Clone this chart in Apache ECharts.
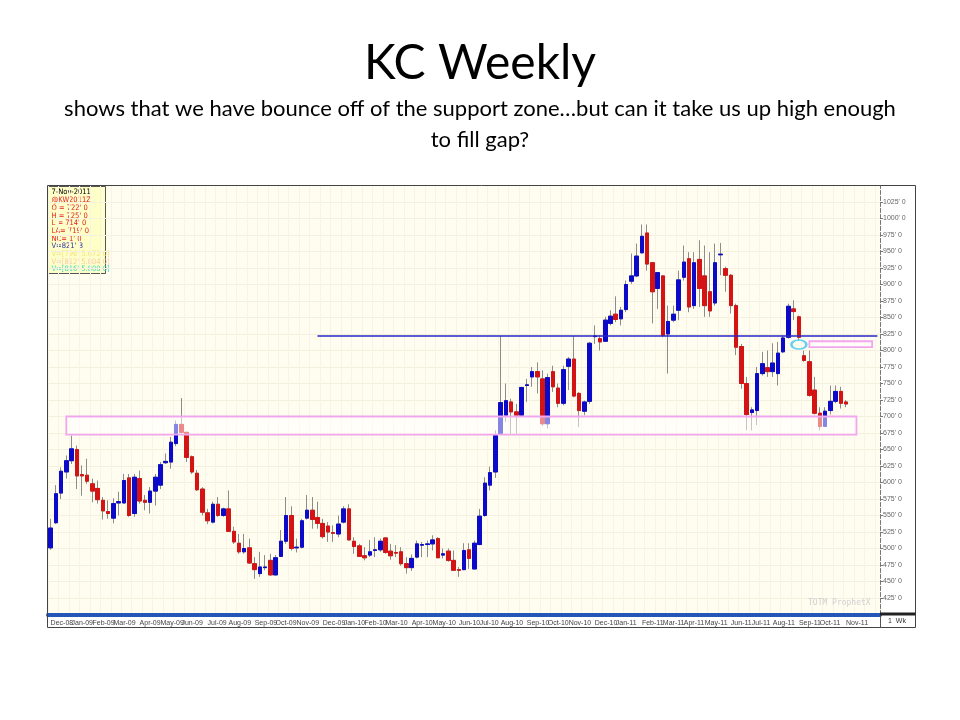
<!DOCTYPE html>
<html>
<head>
<meta charset="utf-8">
<title>KC Weekly</title>
<script src="https://cdn.jsdelivr.net/npm/echarts/dist/echarts.min.js"></script>
<style>
  html, body { margin: 0; padding: 0; background: #fff; }
  #chart { width: 960px; height: 720px; }
</style>
</head>
<body>
<div id="chart"></div>
<script>
// weekly bars, first one is the week of 8-Dec-2008, last one 7-Nov-2011
var firstWeek = '2008-12-08';
var weekSlots = 159;   // 153 bars + empty weeks on the right of the chart
var MONTHS = ['Jan','Feb','Mar','Apr','May','Jun','Jul','Aug','Sep','Oct','Nov','Dec'];

var opens = [
  501,539,584,616,633,650,612,611,598,591,
  573,556,546,569,569,607,553,606,573,570,
  587,596,630,631,659,688,676,639,614,590,
  554,540,567,550,560,526,508,495,501,477,
  462,471,482,460,488,511,550,501,502,546,
  558,547,538,534,524,522,540,560,511,504,
  489,490,497,498,516,496,494,495,477,471,
  487,505,506,507,515,490,496,482,468,468,
  498,469,506,550,596,616,674,702,722,707,
  702,747,760,768,757,689,768,743,720,776,
  787,735,708,723,821,818,814,841,855,848,
  862,905,913,948,978,933,894,913,825,846,
  861,911,939,868,938,913,889,872,945,924,
  914,868,806,750,706,709,765,774,768,765,
  798,820,863,851,792,783,740,705,685,709,
  723,738,722
];
var closes = [
  531,583,617,633,651,610,610,602,587,574,
  557,553,568,571,603,550,608,572,570,587,
  608,627,632,661,688,676,638,616,589,555,
  542,567,550,560,526,510,495,500,478,468,
  472,472,460,486,511,550,500,502,542,558,
  544,538,518,525,523,537,560,513,503,488,
  486,495,498,511,494,489,493,477,471,485,
  507,506,507,513,486,492,482,467,467,497,
  485,508,549,599,615,671,721,724,707,702,
  744,748,768,760,689,759,745,720,771,787,
  731,709,722,811,822,813,846,852,847,861,
  900,913,943,973,931,889,918,823,844,855,
  907,934,866,933,894,868,860,933,946,914,
  868,805,750,703,710,765,780,768,781,796,
  819,867,859,820,785,732,705,685,708,723,
  738,720,719
];
var lows = [
  498,537,575,606,628,590,580,598,570,568,
  544,545,538,550,568,548,548,568,558,553,
  565,590,628,621,655,674,631,613,587,550,
  537,538,548,548,525,507,492,492,477,454,
  457,467,459,459,487,507,497,494,500,544,
  530,530,515,510,510,517,538,512,492,487,
  482,487,487,495,492,483,487,474,462,466,
  485,487,487,497,485,485,480,466,457,467,
  469,468,505,548,588,607,672,692,674,674,
  700,722,745,735,686,682,737,714,717,740,
  729,684,702,719,810,800,813,838,843,838,
  858,901,911,947,921,841,863,820,765,843,
  846,906,858,863,866,851,851,868,914,889,
  856,793,742,679,679,687,762,760,760,747,
  796,818,846,815,783,730,703,679,684,703,
  720,712,714
];
var highs = [
  545,596,623,641,671,656,626,636,606,603,
  578,573,576,586,613,613,613,618,581,593,
  613,631,644,669,694,728,677,641,619,593,
  560,571,578,562,588,533,522,522,515,487,
  495,490,492,490,528,578,564,515,545,581,
  578,571,545,540,535,550,564,567,517,507,
  502,513,517,515,517,507,505,502,487,491,
  512,510,512,520,517,500,500,497,472,508,
  508,512,560,608,624,679,822,750,727,719,
  745,757,775,782,770,765,777,750,777,790,
  822,737,724,813,838,823,851,861,882,866,
  906,947,962,991,991,934,919,914,868,868,
  921,959,949,949,967,959,949,962,963,927,
  916,871,810,760,714,775,798,800,811,813,
  823,871,876,853,800,800,760,714,714,747,
  747,745,725
];

var yTicks = { min: 400, max: 1050, step: 25 };
// drawn levels: [start week, top, end week, bottom]
var zones = [
  [3, 700, 154, 672.5],     // support zone
  [145, 814, 157, 805]      // gap
];
var resistance = { fromWeek: 51, toWeek: 158, level: 822 };
var gapMarker = [143, 809];

// ---------------------------------------------------------------
var cats = [];
var start = new Date(firstWeek + 'T00:00:00Z');
for (var w = 0; w < weekSlots; w++) {
  var d = new Date(start.getTime() + w * 7 * 86400000);
  cats.push(d.toISOString().slice(0, 10));
}

var ohlc = [], bodies = [];
for (var i = 0; i < opens.length; i++) {
  ohlc.push([opens[i], closes[i], lows[i], highs[i]]);
  bodies.push([opens[i], closes[i], Math.min(opens[i], closes[i]), Math.max(opens[i], closes[i])]);
}
var last = opens.length - 1;

function isMonthStart(idx) {
  if (idx >= opens.length) return false;
  return idx === 0 || cats[idx].slice(5, 7) !== cats[idx - 1].slice(5, 7);
}
function monthLabel(v, idx) {
  if (!isMonthStart(idx)) return '';
  return MONTHS[+v.slice(5, 7) - 1] + '-' + v.slice(2, 4);
}
function price(v) { return v + "' 0"; }

var tiny = 'Liberation Sans, Arial, sans-serif';
var red = '#e02020';
var infoLines = [
  ['7-Nov-2011', '#000'],
  ['@KW2011Z', red],
  ['O = ' + price(opens[last]), red],
  ['H = ' + price(highs[last]), red],
  ['L = ' + price(lows[last]), red],
  ['LA= ' + price(closes[last]), red],
  ["NC= 1' 0", red],
  ["V=821' 3", '#3030a0'],
  ["V=[796' 5.672 0]", '#f2e27a'],
  ["V=[812' 5.804 0]", '#f6caa8'],
  ["V=[816' 5.800 0]", '#3fd8c0']
];
var infoChildren = [{
  type: 'rect', shape: { x: 0, y: 0, width: 58, height: 87 },
  style: { fill: '#ffffc8', stroke: '#555', lineWidth: 1 }
}];
infoLines.forEach(function (l, k) {
  infoChildren.push({
    type: 'text', x: 4, y: 2 + k * 7.7,
    style: { text: l[0], fill: l[1], fontSize: 7.5, fontFamily: 'DejaVu Sans Condensed, DejaVu Sans, sans-serif', verticalAlign: 'top' }
  });
});

var chart = echarts.init(document.getElementById('chart'));
chart.setOption({
  animation: false,
  backgroundColor: '#ffffff',
  grid: {
    left: 48, right: 80, top: 185.5, bottom: 105.5,
    show: true, backgroundColor: '#fffcf0', borderWidth: 0,
    containLabel: false, outerBoundsMode: 'none'
  },
  xAxis: [{
    type: 'category', data: cats, boundaryGap: true, position: 'bottom',
    axisLine: { onZero: false, lineStyle: { color: '#2356b8', width: 4 } },
    axisTick: { interval: isMonthStart, length: 13, lineStyle: { color: '#777' } },
    axisLabel: {
      interval: 0, formatter: monthLabel, align: 'left',
      fontSize: 7, color: '#444', fontFamily: tiny, margin: 5, hideOverlap: false
    },
    splitLine: { show: true, interval: 1, lineStyle: { color: '#f8f3e6', width: 1 } }
  }, {
    type: 'category', data: cats, boundaryGap: true, position: 'bottom',
    axisLine: { show: false },
    axisTick: { interval: 0, length: 3, lineStyle: { color: '#777' } },
    axisLabel: { show: false },
    splitLine: { show: false }
  }],
  yAxis: {
    type: 'value', position: 'right', min: yTicks.min, max: yTicks.max, interval: yTicks.step,
    axisLine: { show: true, lineStyle: { color: '#777', type: 'dashed' } },
    axisTick: { show: true, length: 3, lineStyle: { color: '#777' } },
    axisLabel: {
      fontSize: 7, color: '#666', fontFamily: tiny, margin: 3,
      formatter: function (v) { return (v === yTicks.min || v === yTicks.max) ? '' : price(v); }
    },
    splitLine: { show: true, lineStyle: { color: '#f5efdd' } }
  },
  series: [{
    name: 'range', type: 'candlestick', data: ohlc, barWidth: 4, z: 2,
    itemStyle: { color: '#8c8c8c', color0: '#8c8c8c', borderColor: '#8c8c8c', borderColor0: '#8c8c8c', borderWidth: 1 }
  }, {
    name: 'KC', type: 'candlestick', data: bodies, barWidth: 4, z: 3,
    itemStyle: { color: '#0a0ac8', color0: '#d41414', borderColor: '#0a0ac8', borderColor0: '#d41414', borderWidth: 1 },
    markLine: {
      silent: true, symbol: 'none', animation: false,
      data: [
        [{ coord: [cats[resistance.fromWeek], resistance.level], lineStyle: { color: '#2626c8', width: 1.5, type: 'solid' }, label: { show: false } },
         { coord: [cats[resistance.toWeek], resistance.level] }],
        { yAxis: closes[last], lineStyle: { opacity: 0 },
          label: { show: true, position: 'end', distance: 1, formatter: price(closes[last]),
                   backgroundColor: '#e80000', color: '#fff', fontSize: 7, fontFamily: tiny, padding: [1, 6, 1, 2] } }
      ]
    }
  }, {
    name: 'zones', type: 'custom', data: zones, z: 4,
    encode: { x: [0, 2], y: [1, 3] },
    renderItem: function (params, api) {
      var p0 = api.coord([api.value(0), api.value(1)]);
      var p1 = api.coord([api.value(2), api.value(3)]);
      return {
        type: 'rect',
        shape: { x: p0[0], y: p0[1], width: p1[0] - p0[0], height: p1[1] - p0[1] },
        style: { fill: 'rgba(255,255,255,0.5)', stroke: '#f2a6ee', lineWidth: 1.8 }
      };
    }
  }, {
    name: 'gap', type: 'scatter', data: [gapMarker], z: 5,
    symbol: 'circle', symbolSize: [15, 9],
    itemStyle: { color: 'rgba(0,0,0,0)', borderColor: '#3cc6f0', borderWidth: 2 }
  }],
  graphic: [
    { type: 'text', x: 480, y: 40,
      style: { text: 'KC Weekly', fontSize: 48, fontFamily: 'Lato, sans-serif', fill: '#000', align: 'center', verticalAlign: 'top' } },
    { type: 'text', x: 480, y: 93,
      style: { text: 'shows that we have bounce off of the support zone\u2026but can it take us up high enough\nto fill gap?',
               fontSize: 22, lineHeight: 31, fontFamily: 'Lato, sans-serif', fill: '#000', align: 'center', verticalAlign: 'top' } },
    { type: 'rect', shape: { x: 47.5, y: 185.5, width: 868, height: 442 },
      style: { fill: null, stroke: '#444', lineWidth: 1 }, z: 10 },
    { type: 'line', shape: { x1: 880.5, y1: 612, x2: 880.5, y2: 627.5 }, style: { stroke: '#555', lineWidth: 1 }, z: 10 },
    { type: 'line', shape: { x1: 880, y1: 614, x2: 915.5, y2: 614 }, style: { stroke: '#222', lineWidth: 3 }, z: 10 },
    { type: 'text', x: 897, y: 621,
      style: { text: '1  Wk', fontSize: 7, fontFamily: tiny, fill: '#333', align: 'center', verticalAlign: 'middle' }, z: 10 },
    { type: 'text', x: 808, y: 603,
      style: { text: 'TOTM ProphetX', fontSize: 8, fontFamily: 'DejaVu Sans Mono, monospace', fill: '#cfcfcf', verticalAlign: 'middle' }, z: 10 },
    { type: 'group', x: 47.5, y: 186.5, z: 10, children: infoChildren }
  ]
});
</script>
</body>
</html>
